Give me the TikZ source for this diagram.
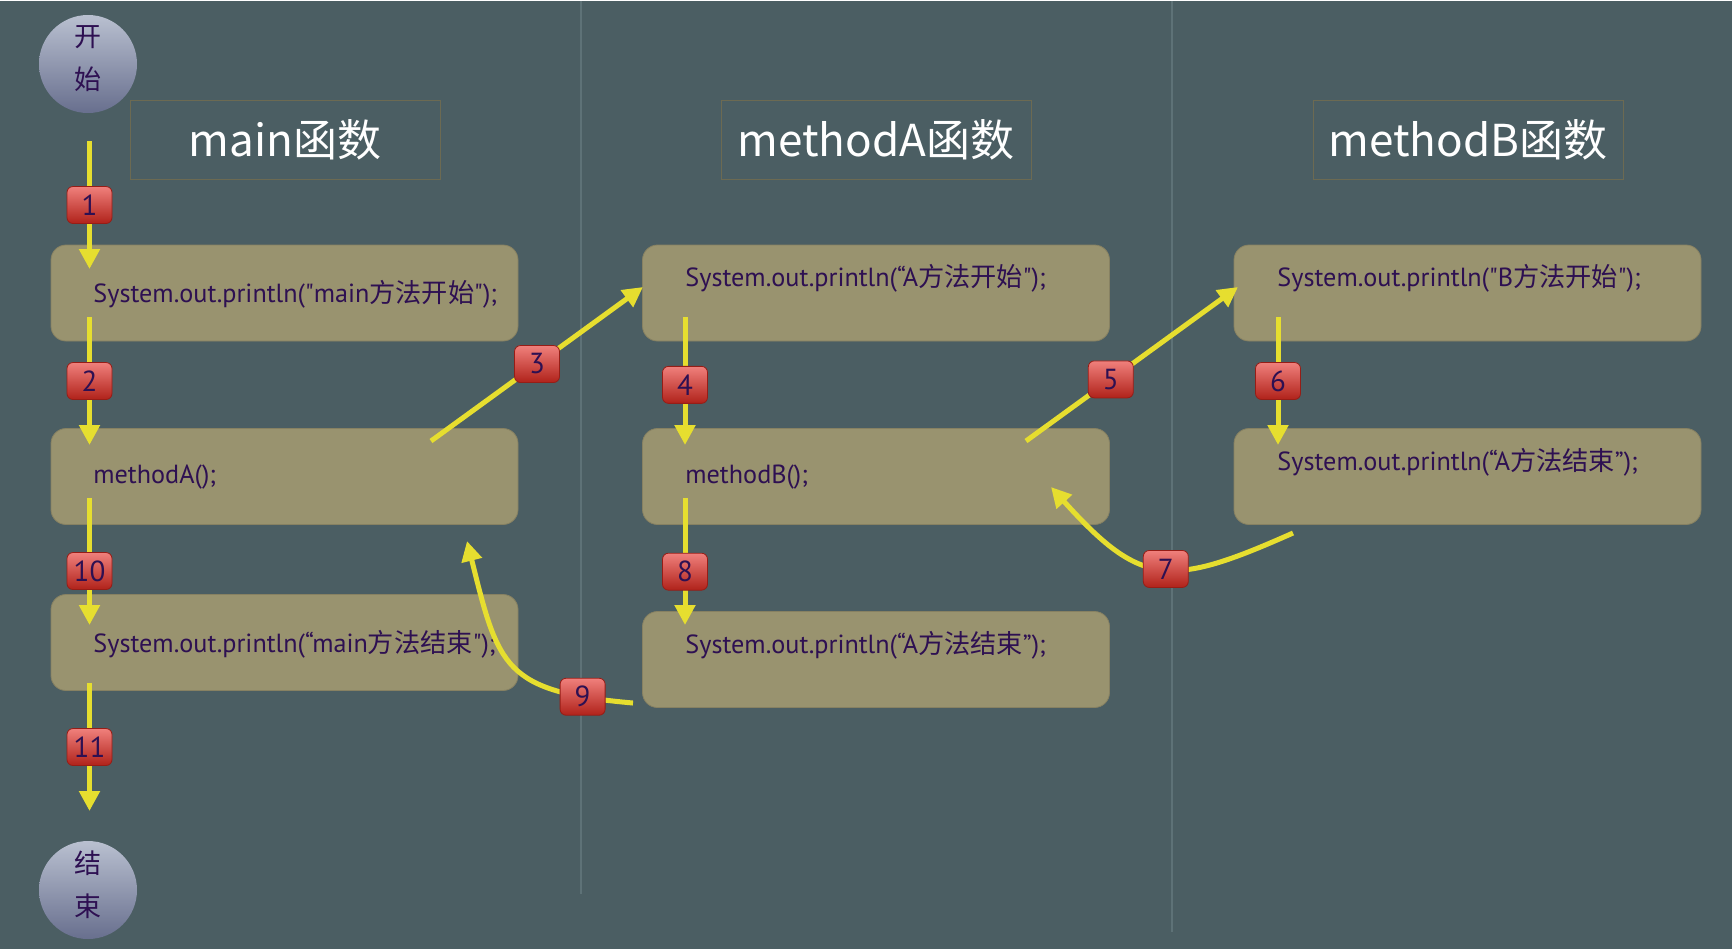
\documentclass[tikz,border=0pt]{standalone}
\usepackage{fontspec}
\setmainfont{PT Sans}
\newfontfamily\cjk{Noto Sans CJK SC}
\usetikzlibrary{arrows.meta}
\definecolor{bgSlate}{HTML}{4B5E63}
\definecolor{boxKhaki}{HTML}{99936F}
\definecolor{flowYellow}{HTML}{E6DE2F}
\definecolor{codeInk}{HTML}{2E1052}
\definecolor{divLine}{HTML}{5E7277}
\definecolor{titleLine}{HTML}{6C6A52}
\definecolor{ballTop}{HTML}{B9C0D0}
\definecolor{ballBottom}{HTML}{686F8E}
\definecolor{badgeTop}{HTML}{F0807C}
\definecolor{badgeBottom}{HTML}{B0221A}
\newcommand{\zhtxt}[1]{{\cjk #1}}
\newcommand{\dq}{\textquotedbl{}}

\begin{document}
\begin{tikzpicture}
[x=0.5pt,y=0.5pt,
  flowArrow/.style={-{Triangle[width=10pt,length=10pt]},line width=2.5pt,draw=flowYellow},%
  stmtBox/.style={rectangle,rounded corners=7.5pt,fill=boxKhaki,draw=boxKhaki!88!black,line width=0.4pt,minimum width=233.5pt,minimum height=48pt},%
  stmtText/.style={anchor=west,inner sep=0pt,text=codeInk,font=\fontsize{13.1}{16}\selectfont},%
  titleBox/.style={draw=titleLine,line width=0.5pt,minimum width=155pt,minimum height=39.5pt,text=white,font=\cjk\fontsize{22}{26}\selectfont},%
  stepBadge/.style={rectangle,rounded corners=3pt,top color=badgeTop,bottom color=badgeBottom,draw=badgeBottom!85!black,line width=0.4pt,minimum width=22.5pt,minimum height=18.5pt,inner sep=1pt,text=codeInk,font=\fontsize{14.5}{14.5}\selectfont},%
  endCircle/.style={circle,minimum size=49pt,inner sep=0pt,top color=ballTop,bottom color=ballBottom},%
  endText/.style={align=center,inner sep=0pt,text=codeInk,font=\cjk\fontsize{13.5}{21.5}\selectfont}]
%% background and column dividers
\fill[bgSlate] (0,0) rectangle (1732,-948);
\draw[divLine,line width=1pt] (581,0) -- (581,-893);
\draw[divLine,line width=1pt] (1172,0) -- (1172,-931);
%% titles and start / end
\node[titleBox] (mainTitle) at (285,-139) {main函数};
\node[titleBox] (aTitle) at (876,-139) {methodA函数};
\node[titleBox] (bTitle) at (1468,-139) {methodB函数};
\node[endCircle] (start) at (88,-63) {};
\node[endText] (startTxt) at ([yshift=2.75pt]start.center) {开\\始};
\node[endCircle] (finish) at (88,-889) {};
\node[endText] (finishTxt) at ([yshift=2.75pt]finish.center) {结\\束};
%% statement boxes
\foreach \boxname/\x/\y in {A1/284.5/292, A2/284.5/475.5, A3/284.5/641.5,
  B1/876/292, B2/876/475.5, B3/876/658.5, C1/1467.5/292, C2/1467.5/475.5}
{
  \node[stmtBox] (\boxname) at (\x,-\y) {};
}
\node[stmtText] (A1txt) at (93,-293) {System.out.println(\dq main\zhtxt{方法开始}\dq);};
\node[stmtText] (A2txt) at (93,-476) {methodA();};
\node[stmtText] (A3txt) at (93,-643) {System.out.println(“main\zhtxt{方法结束}\dq);};
\node[stmtText] (B1txt) at (685,-277) {System.out.println(“A\zhtxt{方法开始}\dq);};
\node[stmtText] (B2txt) at (685,-476) {methodB();};
\node[stmtText] (B3txt) at (685,-644) {System.out.println(“A\zhtxt{方法结束}”);};
\node[stmtText] (C1txt) at (1277,-277) {System.out.println(\dq B\zhtxt{方法开始}\dq);};
\node[stmtText] (C2txt) at (1277,-461) {System.out.println(“A\zhtxt{方法结束}”);};
%% arrow ends
\foreach \name/\x/\y in {s1/89.5/140, e1/89.5/268, s2/89.5/316, e2/89.5/444,
  s10/89.5/497, e10/89.5/624, s11/89.5/682, e11/89.5/810,
  s4/685/316, e4/685/444, s8/685/497, e8/685/624, s6/1278/316, e6/1278/444,
  s3/431/440, e3/643/286, s5/1026/440, e5/1238/286,
  s7/1293/532, e7/1051/486, s9/633/702, e9/467/540}
{
  \coordinate (\name) at (\x,-\y);
}
%% steps
\foreach \num/\where in {1/0.5, 2/0.5, 10/0.575, 11/0.5, 4/0.53, 8/0.58, 6/0.5, 3/0.5, 5/0.4}
{
  \draw[flowArrow] (s\num) -- node[stepBadge,pos=\where] {\num} (e\num);
}
\draw[flowArrow] (s7) to[out=204,in=-48,looseness=1.4] node[stepBadge,pos=0.47] {7} (e7);
\draw[flowArrow] (s9) to[out=175,in=-76,looseness=1.43] node[stepBadge,pos=0.15] {9} (e9);
\end{tikzpicture}
\end{document}
